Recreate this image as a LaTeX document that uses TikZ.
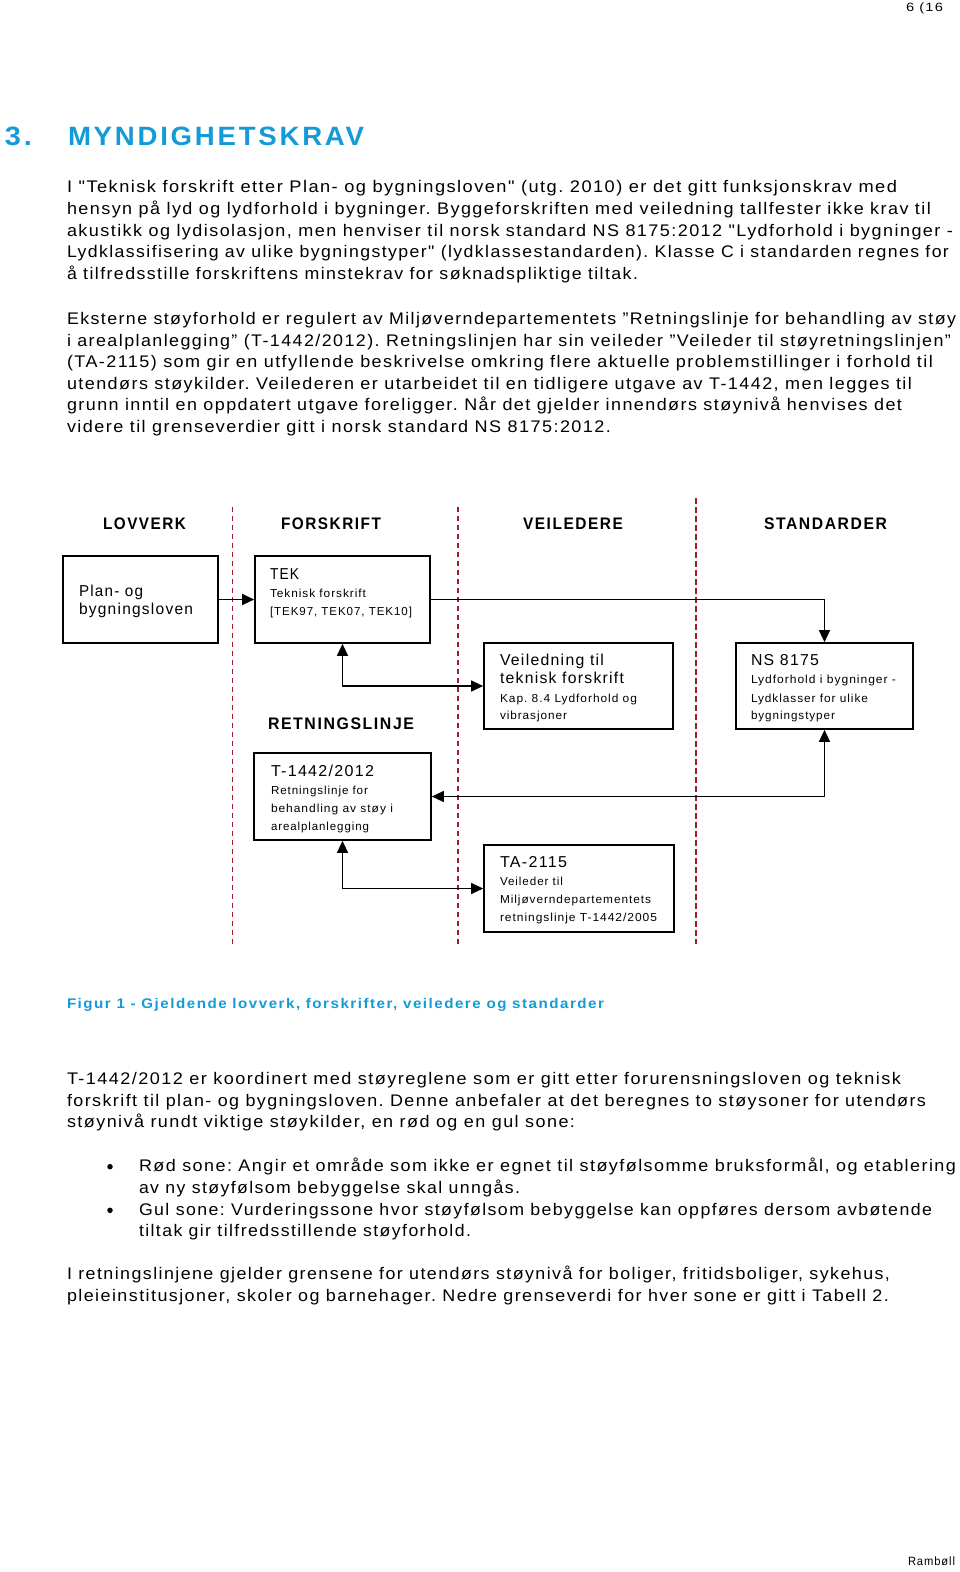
\documentclass[tikz,border=0pt]{standalone}
\usepackage{graphicx}
\usepackage{fontspec}
\newfontfamily\bodyfont{Liberation Sans}[LetterSpace=8]
\newfontfamily\headfont{Liberation Sans}[LetterSpace=10]
\usetikzlibrary{arrows.meta}
\definecolor{rblue}{RGB}{20,155,215}
\definecolor{divred}{RGB}{160,30,45}
\tikzset{
  txt/.style={anchor=base west, inner sep=0pt, outer sep=0pt},
  body/.style={txt, font=\bodyfont\fontsize{16.8pt}{20pt}\selectfont},
  big/.style={txt, font=\bodyfont\fontsize{15.8pt}{19pt}\selectfont},
  small/.style={txt, font=\bodyfont\fontsize{11.6pt}{14pt}\selectfont},
  tiny/.style={txt, font=\bodyfont\fontsize{12pt}{14pt}\selectfont},
  colhead/.style={txt, font=\headfont\bfseries\fontsize{16.7pt}{20pt}\selectfont},
  title/.style={txt, text=rblue, font=\headfont\bfseries\fontsize{26.5pt}{30pt}\selectfont},
  caption/.style={txt, text=rblue, font=\headfont\bfseries\fontsize{14pt}{17pt}\selectfont},
  box/.style={draw, line width=1.7pt, inner sep=0pt},
  conn/.style={line width=1.3pt},
  divider/.style={draw=divred, line width=1.5pt, dash pattern=on 5.5pt off 3.5pt},
  bullet/.style={circle, fill=black, inner sep=0pt, minimum size=5.5pt},
  >={Triangle[length=12pt,width=11pt]}
}
\newcommand\txtline[6][body]{\node[#1] (#2) at (#3,#4) {\resizebox{#5pt}{\height}{#6}};}
\begin{document}
\frenchspacing
\begin{tikzpicture}[x=1pt,y=-1pt]
\fill[white] (0,0) rectangle (960,1572);
\useasboundingbox (0,0) rectangle (960,1572);

% page header
\txtline[tiny]{pagenum}{906}{11}{37}{6 (16}

% heading
\txtline[title]{secnum}{5}{145}{27}{3.}
\txtline[title]{sectitle}{68}{145}{296}{MYNDIGHETSKRAV}

% paragraph 1
\txtline{pa1}{67}{192.7}{830}{I "Teknisk forskrift etter Plan- og bygningsloven" (utg. 2010) er det gitt funksjonskrav med}
\txtline{pa2}{67}{214.3}{864}{hensyn på lyd og lydforhold i bygninger. Byggeforskriften med veiledning tallfester ikke krav til}
\txtline{pa3}{67}{236}{886}{akustikk og lydisolasjon, men henviser til norsk standard NS 8175:2012 "Lydforhold i bygninger -}
\txtline{pa4}{67}{257.7}{882}{Lydklassifisering av ulike bygningstyper" (lydklassestandarden). Klasse C i standarden regnes for}
\txtline{pa5}{67}{279.3}{571}{å tilfredsstille forskriftens minstekrav for søknadspliktige tiltak.}

% paragraph 2
\txtline{pb1}{67}{324.3}{889}{Eksterne støyforhold er regulert av Miljøverndepartementets ”Retningslinje for behandling av støy}
\txtline{pb2}{67}{346}{884}{i arealplanlegging” (T-1442/2012). Retningslinjen har sin veileder ”Veileder til støyretningslinjen”}
\txtline{pb3}{67}{367.5}{866}{(TA-2115) som gir en utfyllende beskrivelse omkring flere aktuelle problemstillinger i forhold til}
\txtline{pb4}{67}{389}{845}{utendørs støykilder. Veilederen er utarbeidet til en tidligere utgave av T-1442, men legges til}
\txtline{pb5}{67}{410.7}{835}{grunn inntil en oppdatert utgave foreligger. Når det gjelder innendørs støynivå henvises det}
\txtline{pb6}{67}{432.5}{544}{videre til grenseverdier gitt i norsk standard NS 8175:2012.}

% diagram: dividers
\draw[divider] (232.7,506.5) -- (232.7,944);
\draw[divider] (457.9,506.5) -- (457.9,944);
\draw[divider] (696,498) -- (696,944);

% column headings
\txtline[colhead]{hlov}{103}{529.3}{83}{LOVVERK}
\txtline[colhead]{hfor}{281}{529.3}{100}{FORSKRIFT}
\txtline[colhead]{hvei}{523}{529.3}{100}{VEILEDERE}
\txtline[colhead]{hsta}{764}{529.3}{123}{STANDARDER}
\txtline[colhead]{hret}{268}{729}{146}{RETNINGSLINJE}

% boxes
\node[box, minimum width=155pt, minimum height=87pt] (plan) at (140.5,599.5) {};
\node[box, minimum width=175pt, minimum height=87pt] (tek) at (342.5,599.5) {};
\node[box, minimum width=189pt, minimum height=86pt] (veil) at (578.5,686) {};
\node[box, minimum width=177pt, minimum height=86pt] (ns) at (824.5,686) {};
\node[box, minimum width=177pt, minimum height=87pt] (tret) at (342.5,796.5) {};
\node[box, minimum width=190pt, minimum height=87pt] (ta) at (579,888.5) {};

% box texts
\txtline[big]{plan1}{79}{596}{64}{Plan- og}
\txtline[big]{plan2}{79}{614}{114}{bygningsloven}

\txtline[big]{tek1}{270}{579}{29}{TEK}
\txtline[small]{tek2}{270}{597}{96}{Teknisk forskrift}
\txtline[small]{tek3}{270}{615}{142}{[TEK97, TEK07, TEK10]}

\txtline[big]{veil1}{500}{665.7}{104}{Veiledning til}
\txtline[big]{veil2}{500}{683.3}{124}{teknisk forskrift}
\txtline[small]{veil3}{500}{702.3}{137}{Kap. 8.4 Lydforhold og}
\txtline[small]{veil4}{500}{719}{67}{vibrasjoner}

\txtline[big]{ns1}{751}{665.7}{68}{NS 8175}
\txtline[small]{ns2}{751}{683.3}{145}{Lydforhold i bygninger -}
\txtline[small]{ns3}{751}{702}{117}{Lydklasser for ulike}
\txtline[small]{ns4}{751}{719}{84}{bygningstyper}

\txtline[big]{tret1}{271}{776}{103}{T-1442/2012}
\txtline[small]{tret2}{271}{794}{97}{Retningslinje for}
\txtline[small]{tret3}{271}{812.5}{122}{behandling av støy i}
\txtline[small]{tret4}{271}{830}{98}{arealplanlegging}

\txtline[big]{ta1}{500}{867.7}{67}{TA-2115}
\txtline[small]{ta2}{500}{885.3}{63}{Veileder til}
\txtline[small]{ta3}{500}{903.7}{151}{Miljøverndepartementets}
\txtline[small]{ta4}{500}{921}{157}{retningslinje T-1442/2005}

% connectors
\draw[conn,->] (plan) -- (tek);
\draw[conn,->] (tek.east) -| (ns.north);
\draw[conn,<->] (tek.south) |- (veil.west);
\draw[conn,<->] (ns.south) |- (tret.east);
\draw[conn,<->] (tret.south) |- (ta.west);

% caption
\txtline[caption]{cap}{67}{1008}{537}{Figur 1 - Gjeldende lovverk, forskrifter, veiledere og standarder}

% paragraph 3
\txtline{pc1}{67}{1084.3}{834}{T-1442/2012 er koordinert med støyreglene som er gitt etter forurensningsloven og teknisk}
\txtline{pc2}{67}{1106}{859}{forskrift til plan- og bygningsloven. Denne anbefaler at det beregnes to støysoner for utendørs}
\txtline{pc3}{67}{1127.7}{508}{støynivå rundt viktige støykilder, en rød og en gul sone:}

% bullets
\node[bullet] (b1) at (110,1166.7) {};
\node[bullet] (b2) at (110,1210.3) {};
\txtline{pd1}{139}{1171.7}{817}{Rød sone: Angir et område som ikke er egnet til støyfølsomme bruksformål, og etablering}
\txtline{pd2}{139}{1193.3}{381}{av ny støyfølsom bebyggelse skal unngås.}
\txtline{pd3}{139}{1215.5}{793}{Gul sone: Vurderingssone hvor støyfølsom bebyggelse kan oppføres dersom avbøtende}
\txtline{pd4}{139}{1236.8}{332}{tiltak gir tilfredsstillende støyforhold.}

% paragraph 4
\txtline{pe1}{67}{1279.3}{823}{I retningslinjene gjelder grensene for utendørs støynivå for boliger, fritidsboliger, sykehus,}
\txtline{pe2}{67}{1301}{822}{pleieinstitusjoner, skoler og barnehager. Nedre grenseverdi for hver sone er gitt i Tabell 2.}

% footer
\txtline[tiny]{footer}{908}{1565}{47}{Rambøll}
\end{tikzpicture}
\end{document}
